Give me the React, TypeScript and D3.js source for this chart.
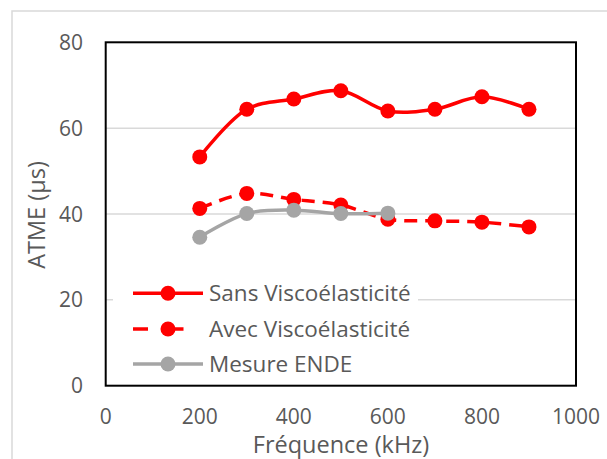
import React from "react";
import * as d3 from "d3";

const frequencies = [200, 300, 400, 500, 600, 700, 800, 900];
const sansVisco = [53.3, 64.4, 66.8, 68.7, 64.0, 64.4, 67.3, 64.4];
const avecVisco = [41.3, 44.8, 43.4, 42.1, 38.8, 38.4, 38.1, 37.0];
const endeFreq = [200, 300, 400, 500, 600];
const mesureEnde = [34.6, 40.1, 40.9, 40.1, 40.2];
const xTicks = [0, 200, 400, 600, 800, 1000];
const yTicks = [0, 20, 40, 60, 80];
const legendLabels = ["Sans Viscoélasticité", "Avec Viscoélasticité", "Mesure ENDE"];

const W = 607, H = 459;
const L = 105.7, R = 576, T = 42.3, B = 385.7;
const FONT = "'Open Sans', Lato, sans-serif";

export default function App() {
  const x = d3.scaleLinear().domain([0, 1000]).range([L, R]);
  const y = d3.scaleLinear().domain([0, 80]).range([B, T]);
  const line = d3
    .line<[number, number]>()
    .x((d) => x(d[0]))
    .y((d) => y(d[1]))
    .curve(d3.curveCatmullRom.alpha(0.5));

  const series = [
    { name: legendLabels[0], xs: frequencies, ys: sansVisco, color: "#FF0000", dash: undefined },
    { name: legendLabels[1], xs: frequencies, ys: avecVisco, color: "#FF0000", dash: "13,8" },
    { name: legendLabels[2], xs: endeFreq, ys: mesureEnde, color: "#A5A5A5", dash: undefined },
  ];
  const drawOrder = [0, 1, 2];
  const legendY = [293.3, 329, 364];

  return (
    <svg width={W} height={H} style={{ position: "absolute", left: 0, top: 0 }} fontFamily={FONT}>
      <rect x={0} y={0} width={W} height={H} fill="#fff" />
      <rect x={12} y={11} width={W} height={H} fill="none" stroke="#d9d9d9" strokeWidth={1.5} />
      {yTicks.filter((t) => t > 0 && t < 80).map((t) => (
        <line key={t} x1={L} x2={R} y1={y(t)} y2={y(t)} stroke="#d9d9d9" strokeWidth={1.5} />
      ))}
      {drawOrder.map((i) => {
        const s = series[i];
        const pts: [number, number][] = s.xs.map((v, k) => [v, s.ys[k]]);
        return (
          <g key={s.name}>
            <path d={line(pts) || ""} fill="none" stroke={s.color} strokeWidth={3.5} strokeDasharray={s.dash} />
            {pts.map((p, k) => (
              <circle key={k} cx={x(p[0])} cy={y(p[1])} r={7.5} fill={s.color} />
            ))}
          </g>
        );
      })}
      <rect x={113} y={276} width={305} height={104} fill="#fff" />
      {series.map((s, i) => (
        <g key={s.name}>
          <line x1={133} x2={203} y1={legendY[i]} y2={legendY[i]} stroke={s.color} strokeWidth={3.5}
            strokeDasharray={s.dash ? "15,20.5" : undefined} />
          <circle cx={168} cy={legendY[i]} r={7.5} fill={s.color} />
          <text x={209} y={legendY[i]} dy="0.36em" fontSize={22.5} fill="#595959">{s.name}</text>
        </g>
      ))}
      <rect x={L} y={T} width={R - L} height={B - T} fill="none" stroke="#000" strokeWidth={2} />
      {xTicks.map((t) => (
        <text key={t} x={x(t)} y={416} dy="0.36em" textAnchor="middle" fontSize={21} fill="#595959">{t}</text>
      ))}
      {yTicks.map((t) => (
        <text key={t} x={83} y={y(t)} dy="0.36em" textAnchor="end" fontSize={21} fill="#595959">{t}</text>
      ))}
      <text x={341} y={445} dy="0.36em" textAnchor="middle" fontSize={23.5} fill="#595959">Fréquence (kHz)</text>
      <text transform={`translate(37,215) rotate(-90)`} dy="0.36em" textAnchor="middle" fontSize={23.5} fill="#595959">ATME (µs)</text>
    </svg>
  );
}
